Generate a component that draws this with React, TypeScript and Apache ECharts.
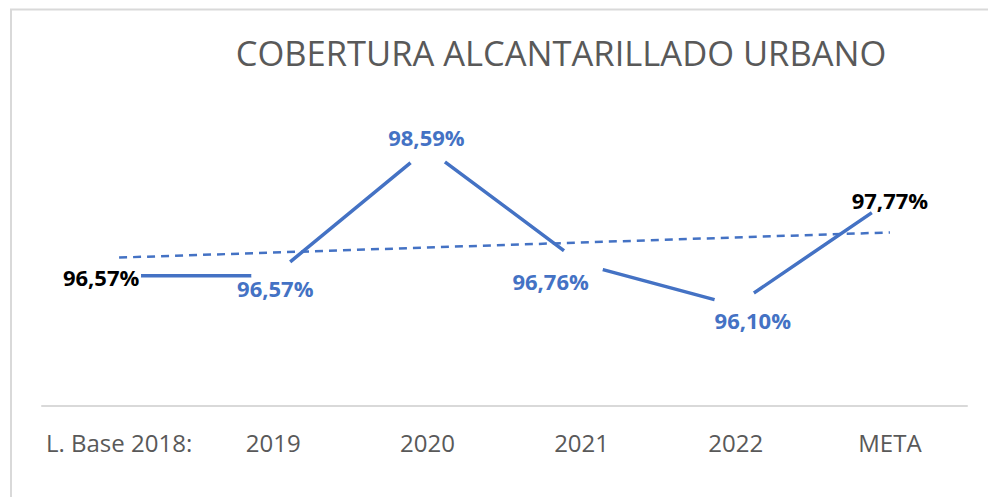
import React, { useEffect, useRef } from "react";
import * as echarts from "echarts";

const categories = ["L. Base 2018:", "2019", "2020", "2021", "2022", "META"];
const coverage = [96.57, 96.57, 98.59, 96.76, 96.1, 97.77];
const labelColors = ["#000000", "#4472C4", "#4472C4", "#4472C4", "#4472C4", "#000000"];
const labelOffsets = [
  [-18, 1],
  [2, 12],
  [-1, -12],
  [-31, 17],
  [17, 15],
  [0, 0],
];
const trendValues = [96.86, null, null, null, null, 97.26];

export default function App() {
  const ref = useRef<HTMLDivElement>(null);

  useEffect(() => {
    if (!ref.current) return;
    const chart = echarts.init(ref.current, undefined, { renderer: "svg" });
    const font = "'Open Sans', 'Noto Sans', sans-serif";
    chart.setOption({
      animation: false,
      backgroundColor: "#ffffff",
      title: {
        text: "COBERTURA ALCANTARILLADO URBANO",
        left: 556,
        top: 30,
        textAlign: "center",
        textStyle: {
          color: "#595959",
          fontSize: 34.5,
          fontWeight: "normal",
          fontFamily: font,
          lineHeight: 34,
        },
      },
      graphic: [
        {
          type: "rect",
          shape: { x: 11, y: 9.5, width: 1000, height: 520 },
          style: { fill: "none", stroke: "#d9d9d9", lineWidth: 2 },
          silent: true,
          z: 100,
        },
      ],
      grid: { left: 42, right: 21, top: 123, bottom: 91, containLabel: false },
      xAxis: {
        type: "category",
        data: categories,
        boundaryGap: true,
        axisLine: { show: true, lineStyle: { color: "#d9d9d9", width: 2 } },
        axisTick: { show: false },
        axisLabel: {
          color: "#595959",
          fontSize: 24,
          fontFamily: font,
          lineHeight: 24,
          margin: 24,
          interval: 0,
        },
        splitLine: { show: false },
      },
      yAxis: {
        type: "value",
        min: 94.5,
        max: 99,
        show: false,
        splitLine: { show: false },
      },
      series: [
        {
          type: "line",
          data: coverage.map((v, i) => ({
            value: v,
            label: {
              show: true,
              position: "inside",
              offset: labelOffsets[i],
              color: labelColors[i],
              fontSize: 22,
              fontWeight: "bold",
              fontFamily: font,
              formatter: (p: any) => p.value.toFixed(2).replace(".", ",") + "%",
            },
          })),
          symbol: "circle",
          symbolSize: 44,
          itemStyle: { color: "#ffffff", borderWidth: 0 },
          lineStyle: { color: "#4472C4", width: 3.5 },
          z: 2,
        },
        {
          type: "line",
          data: trendValues,
          connectNulls: true,
          symbol: "none",
          silent: true,
          lineStyle: { color: "#4472C4", width: 2.5, type: [8, 6] },
          z: 5,
        },
      ],
    });
    return () => chart.dispose();
  }, []);

  return (
    <div
      ref={ref}
      style={{ position: "absolute", left: 0, top: 0, width: 988, height: 497 }}
    />
  );
}
